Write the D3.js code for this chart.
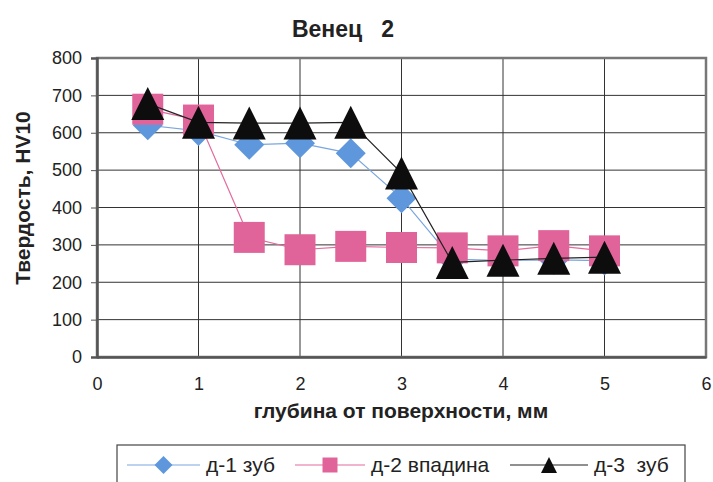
<!DOCTYPE html>
<meta charset="utf-8">
<style type="text/css">

body { margin: 0; background: #fff; }
svg { font-family: "Liberation Sans", Arial, sans-serif; }

.grid line { stroke: #333; stroke-width: 1; }
.axis text { font-size: 18px; fill: #222; }
.axis path, .axis line { stroke: #555; }

</style>
<body>
</body>

<script src="https://cdn.jsdelivr.net/npm/d3@7/dist/d3.min.js"></script>
<script>

var depth = [0.5, 1, 1.5, 2, 2.5, 3, 3.5, 4, 4.5, 5];

var d1 = [620, 605, 568, 572, 545, 425, 262, 258, 260, 258];
var d2 = [663, 634, 320, 287, 296, 293, 292, 284, 298, 284];
var d3v = [678, 628, 626, 626, 628, 492, 253, 259, 264, 267];

var seriesNames = ["д-1 зуб", "д-2 впадина", "д-3  зуб"];
var xTicks = [0, 1, 2, 3, 4, 5, 6];
var yTicks = [0, 100, 200, 300, 400, 500, 600, 700, 800];

var width = 713, height = 482;

var x = d3.scaleLinear().domain([0, 6]).range([97, 706]);
var y = d3.scaleLinear().domain([0, 800]).range([357, 58]);

var svg = d3.select("body").append("svg")
    .attr("width", width)
    .attr("height", height);

// grid
var grid = svg.append("g").attr("class", "grid");
grid.selectAll(".h").data(yTicks).enter().append("line")
    .attr("x1", x(0)).attr("x2", x(6))
    .attr("y1", function(d) { return y(d); })
    .attr("y2", function(d) { return y(d); });
grid.selectAll(".v").data(xTicks).enter().append("line")
    .attr("x1", function(d) { return x(d); })
    .attr("x2", function(d) { return x(d); })
    .attr("y1", y(800)).attr("y2", y(0));

// plot border
svg.append("rect")
    .attr("x", x(0)).attr("y", y(800))
    .attr("width", x(6) - x(0)).attr("height", y(0) - y(800))
    .attr("fill", "none").attr("stroke", "#777").attr("stroke-width", 2.5);

svg.append("g")
    .attr("class", "axis")
    .attr("transform", "translate(" + x(0) + ",0)")
    .call(d3.axisLeft(y).tickValues(yTicks).tickSize(6).tickPadding(9))
    .call(function(g) { g.select(".domain").attr("stroke-width", 2.5); });

svg.append("g")
    .attr("class", "axis")
    .attr("transform", "translate(0," + y(0) + ")")
    .call(d3.axisBottom(x).tickValues(xTicks).tickFormat(d3.format("d")).tickSize(0).tickPadding(20))
    .call(function(g) { g.select(".domain").attr("stroke-width", 2.5); });

// titles
svg.append("text")
    .attr("x", 343).attr("y", 37)
    .attr("text-anchor", "middle")
    .attr("font-size", 23).attr("font-weight", "bold")
    .attr("fill", "#222")
    .attr("xml:space", "preserve")
    .text("Венец   2");

svg.append("text")
    .attr("x", 401).attr("y", 418)
    .attr("text-anchor", "middle")
    .attr("font-size", 21).attr("font-weight", "bold")
    .attr("fill", "#222")
    .text("глубина от поверхности, мм");

svg.append("text")
    .attr("transform", "translate(30,198) rotate(-90)")
    .attr("text-anchor", "middle")
    .attr("font-size", 21).attr("font-weight", "bold")
    .attr("fill", "#222")
    .text("Твердость, HV10");

// markers
function diamond(s) { var h = s / 2; return "M0," + (-h) + "L" + h + ",0L0," + h + "L" + (-h) + ",0Z"; }
function square(s) { var h = s / 2; return "M" + (-h) + "," + (-h) + "H" + h + "V" + h + "H" + (-h) + "Z"; }
function triangle(s) { var h = s / 2; return "M0," + (-h) + "L" + h + "," + h + "H" + (-h) + "Z"; }

var series = [
  { name: seriesNames[0], values: d1, line: "#7aa6e0", fill: "#5e97dc", shape: diamond, size: 30, lsize: 18 },
  { name: seriesNames[1], values: d2, line: "#e36a9e", fill: "#e0649a", shape: square, size: 31, lsize: 15 },
  { name: seriesNames[2], values: d3v, line: "#222", fill: "#0d0d0d", shape: triangle, size: 33, lsize: 16 }
];

var line = d3.line()
    .x(function(d, i) { return x(depth[i]); })
    .y(function(d) { return y(d); });

series.forEach(function(s) {
  svg.append("path")
      .datum(s.values)
      .attr("fill", "none")
      .attr("stroke", s.line)
      .attr("stroke-width", 1.2)
      .attr("d", line);

  svg.selectAll(null)
      .data(s.values)
    .enter().append("path")
      .attr("transform", function(d, i) { return "translate(" + x(depth[i]) + "," + y(d) + ")"; })
      .attr("fill", s.fill)
      .attr("d", s.shape(s.size));
});

// legend
var legend = svg.append("g");
legend.append("rect")
    .attr("x", 117).attr("y", 445)
    .attr("width", 568).attr("height", 44)
    .attr("fill", "#fff").attr("stroke", "#444").attr("stroke-width", 1.2);

var legendX = [127, 295, 510];
var legendW = [73, 70, 78];
series.forEach(function(s, i) {
  var g = legend.append("g");
  var cx = legendX[i] + legendW[i] / 2;
  g.append("line")
      .attr("x1", legendX[i]).attr("x2", legendX[i] + legendW[i])
      .attr("y1", 465).attr("y2", 465)
      .attr("stroke", s.line).attr("stroke-width", 1.2);
  g.append("path")
      .attr("transform", "translate(" + cx + ",465)")
      .attr("fill", s.fill)
      .attr("d", s.shape(s.lsize));
  g.append("text")
      .attr("x", legendX[i] + legendW[i] + 6).attr("y", 472)
      .attr("font-size", 21)
      .attr("fill", "#222")
      .attr("xml:space", "preserve")
      .text(s.name);
});

</script>
